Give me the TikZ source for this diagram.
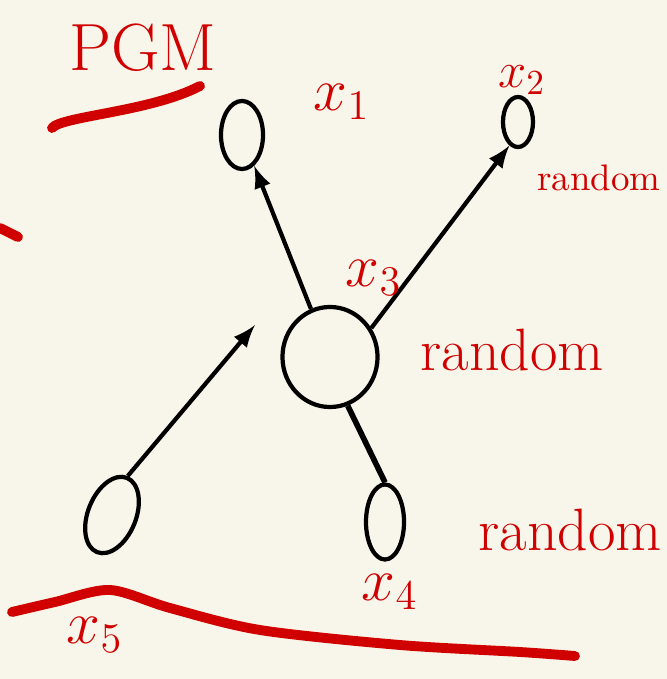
\documentclass[tikz,border=0pt]{standalone}
\usepackage{xcolor}
\usetikzlibrary{arrows}
\usetikzlibrary{shapes.geometric}
\definecolor{qpaper}{RGB}{248,246,234}
\definecolor{qred}{RGB}{208,0,0}

\begin{document}
\begin{tikzpicture}[x=0.01cm,y=-0.01cm]
\tikzset{
var/.style={ellipse,draw,line width=1.2pt,inner sep=0pt},
lbl/.style={text=qred,font=\fontsize{17}{20}\selectfont},
ink/.style={qred,line width=2.8pt,line cap=round}
}

%paper
\fill[qpaper] (0,0) rectangle (667,679);
\useasboundingbox (0,0) rectangle (667,679);

%title:
\node[lbl,font=\fontsize{19}{22}\selectfont] (title) at (143,48) {PGM};
\draw[ink] (52,128) .. controls (62,116) and (150,112) .. (200,86);
\draw[ink] (0,228) -- (18,237);

%variables:
\node[var,minimum width=0.42cm,minimum height=0.68cm] (x1) at (242,135) {};
\node[var,minimum width=0.3cm,minimum height=0.5cm] (x2) at (518,122) {};
\node[var,minimum width=0.95cm,minimum height=1cm] (x3) at (330,357) {};
\node[var,minimum width=0.38cm,minimum height=0.75cm] (x4) at (385,522) {};
\node[var,minimum width=0.48cm,minimum height=0.8cm,rotate=-22] (x5) at (112,515) {};
\coordinate (h5) at (255,325);

%edges:
\draw[-latex,line width=1.2pt] (x3) -- (x1);
\draw[-latex,line width=1.2pt] (x3.35) -- (x2.250);
\draw[-latex,line width=1.2pt] (x5.north) -- (h5);
\draw[line width=1.6pt] (x3.290) -- (x4.north);

%labels:
\node[lbl] (l1) at (342,102) {$x_1$};
\node[lbl,font=\fontsize{14}{17}\selectfont] (l2) at (522,80) {$x_2$};
\node[lbl] (l3) at (374,278) {$x_3$};
\node[lbl] (l4) at (390,592) {$x_4$};
\node[lbl] (l5) at (95,635) {$x_5$};
\node[lbl,anchor=east,inner sep=0.5pt,font=\fontsize{10.5}{13}\selectfont] (r2) at (663,178) {random};
\node[lbl,anchor=west] (r3) at (408,350) {random};
\node[lbl,anchor=west] (r4) at (466,530) {random};

%baseline:
\draw[ink] plot[smooth] coordinates {(12,612) (55,602) (110,590) (170,608) (260,630) (400,645) (520,652) (575,656)};

\end{tikzpicture}
\end{document}
